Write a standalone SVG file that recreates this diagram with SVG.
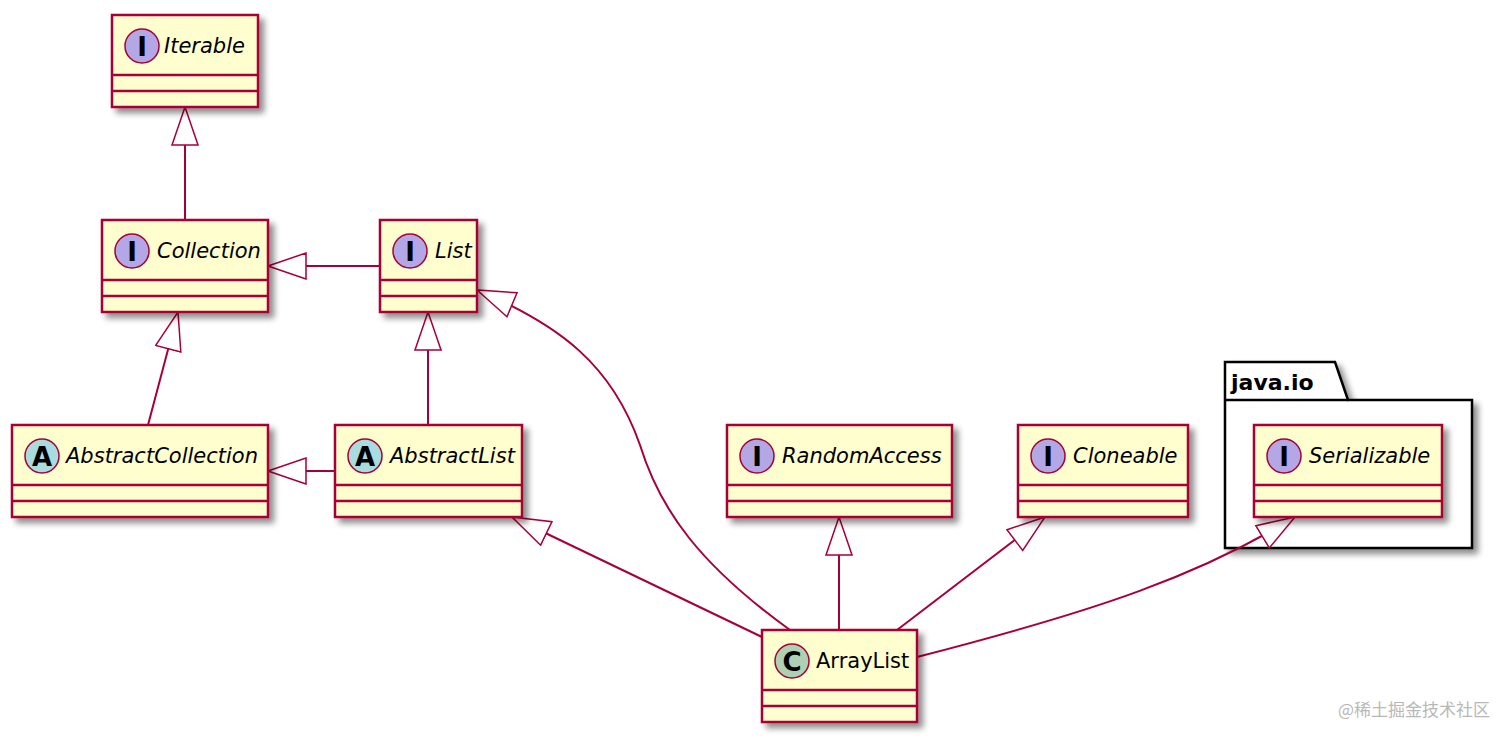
<svg xmlns="http://www.w3.org/2000/svg" width="1512" height="741" viewBox="0 0 1512 741">
<defs>
<filter id="sh" x="-10%" y="-10%" width="130%" height="130%"><feGaussianBlur in="SourceAlpha" stdDeviation="3"/><feOffset dx="5" dy="5"/><feComponentTransfer><feFuncA type="linear" slope="0.45"/></feComponentTransfer><feMerge><feMergeNode/><feMergeNode in="SourceGraphic"/></feMerge></filter>
<marker id="tri" markerUnits="userSpaceOnUse" markerWidth="40" markerHeight="28" refX="38" refY="13" orient="auto" viewBox="-1 -1 40 28"><path d="M0,0 L38,13 L0,26 Z" fill="#fff" stroke="#A80036" stroke-width="1.5"/></marker>
</defs>
<style>
.b{fill:#FEFECE;stroke:#A80036;stroke-width:2.5}
.l{stroke:#A80036;stroke-width:2.5}
.c{stroke:#A80036;stroke-width:1.5}
.t{font-family:"DejaVu Sans",sans-serif;font-size:21px;fill:#000}
.i{font-style:italic}
.g{font-family:"DejaVu Sans",sans-serif;font-size:26px;font-weight:bold;text-anchor:middle}
.e{fill:none;stroke:#A80036;stroke-width:2;marker-end:url(#tri)}
</style>
<rect width="1512" height="741" fill="#fff"/>
<g id="pkg"><path d="M1225,362 H1335 L1348,400 H1472 V548 H1225 Z" fill="#fff" stroke="#000" stroke-width="2.5" filter="url(#sh)"/><line x1="1225" y1="400" x2="1348" y2="400" stroke="#000" stroke-width="2.5"/><text x="1231" y="390" font-family="DejaVu Sans,sans-serif" font-size="22" font-weight="bold">java.io</text></g>
<g id="connectors">
<path class="e" d="M185,220 V107"/>
<path class="e" d="M148,425 L178,312"/>
<path class="e" d="M380,266 H268"/>
<path class="e" d="M335,471 H268"/>
<path class="e" d="M428,425 V312"/>
<path class="e" d="M762,637 L512,517"/>
<path class="e" d="M790,630 C700,565 660,510 640,445 C612,365 560,325 477,290"/>
<path class="e" d="M839,630 V517"/>
<path class="e" d="M897,630 L1045,517"/>
<path class="e" d="M917,657 C1100,610 1200,575 1295,517"/>
</g>
<g id="Iterable"><rect class="b" x="112" y="15" width="146" height="92" filter="url(#sh)"/><line class="l" x1="112" y1="75" x2="258" y2="75"/><line class="l" x1="112" y1="91" x2="258" y2="91"/><circle cx="142" cy="46" r="17" fill="#B4A7E5" class="c"/><text class="g" x="142" y="56">I</text><text class="t i" x="164" y="53">Iterable</text></g>
<g id="Collection"><rect class="b" x="102" y="220" width="166" height="92" filter="url(#sh)"/><line class="l" x1="102" y1="280" x2="268" y2="280"/><line class="l" x1="102" y1="296" x2="268" y2="296"/><circle cx="132" cy="251" r="17" fill="#B4A7E5" class="c"/><text class="g" x="132" y="261">I</text><text class="t i" x="157" y="258">Collection</text></g>
<g id="List"><rect class="b" x="380" y="220" width="97" height="92" filter="url(#sh)"/><line class="l" x1="380" y1="280" x2="477" y2="280"/><line class="l" x1="380" y1="296" x2="477" y2="296"/><circle cx="410" cy="251" r="17" fill="#B4A7E5" class="c"/><text class="g" x="410" y="261">I</text><text class="t i" x="435" y="258">List</text></g>
<g id="AbstractCollection"><rect class="b" x="12" y="425" width="256" height="92" filter="url(#sh)"/><line class="l" x1="12" y1="485" x2="268" y2="485"/><line class="l" x1="12" y1="501" x2="268" y2="501"/><circle cx="42" cy="456" r="17" fill="#A9DCDF" class="c"/><text class="g" x="42" y="466">A</text><text class="t i" x="66" y="463">AbstractCollection</text></g>
<g id="AbstractList"><rect class="b" x="335" y="425" width="187" height="92" filter="url(#sh)"/><line class="l" x1="335" y1="485" x2="522" y2="485"/><line class="l" x1="335" y1="501" x2="522" y2="501"/><circle cx="365" cy="456" r="17" fill="#A9DCDF" class="c"/><text class="g" x="365" y="466">A</text><text class="t i" x="390" y="463">AbstractList</text></g>
<g id="RandomAccess"><rect class="b" x="727" y="425" width="225" height="92" filter="url(#sh)"/><line class="l" x1="727" y1="485" x2="952" y2="485"/><line class="l" x1="727" y1="501" x2="952" y2="501"/><circle cx="757" cy="456" r="17" fill="#B4A7E5" class="c"/><text class="g" x="757" y="466">I</text><text class="t i" x="782" y="463">RandomAccess</text></g>
<g id="Cloneable"><rect class="b" x="1018" y="425" width="170" height="92" filter="url(#sh)"/><line class="l" x1="1018" y1="485" x2="1188" y2="485"/><line class="l" x1="1018" y1="501" x2="1188" y2="501"/><circle cx="1048" cy="456" r="17" fill="#B4A7E5" class="c"/><text class="g" x="1048" y="466">I</text><text class="t i" x="1073" y="463">Cloneable</text></g>
<g id="Serializable"><rect class="b" x="1254" y="425" width="188" height="92" filter="url(#sh)"/><line class="l" x1="1254" y1="485" x2="1442" y2="485"/><line class="l" x1="1254" y1="501" x2="1442" y2="501"/><circle cx="1284" cy="456" r="17" fill="#B4A7E5" class="c"/><text class="g" x="1284" y="466">I</text><text class="t i" x="1309" y="463">Serializable</text></g>
<g id="ArrayList"><rect class="b" x="762" y="630" width="155" height="92" filter="url(#sh)"/><line class="l" x1="762" y1="690" x2="917" y2="690"/><line class="l" x1="762" y1="706" x2="917" y2="706"/><circle cx="792" cy="661" r="17" fill="#ADD1B2" class="c"/><text class="g" x="792" y="671">C</text><text class="t" x="816" y="668">ArrayList</text></g>
<text x="1490" y="716" text-anchor="end" font-family="Noto Sans CJK SC,sans-serif" font-size="17" fill="#b8b8b8">@稀土掘金技术社区</text>
</svg>
